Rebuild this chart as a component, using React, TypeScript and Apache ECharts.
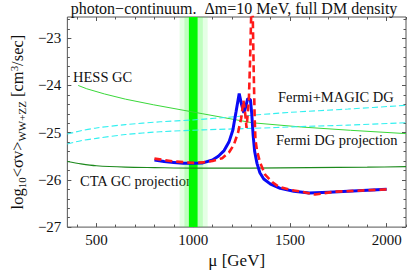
import React, { useEffect, useRef } from "react";
import * as echarts from "echarts";

const xMajor = [500, 1000, 1500, 2000];
const xMinor = [400, 600, 700, 800, 900, 1100, 1200, 1300, 1400, 1600, 1700, 1800, 1900, 2100];
const yMajor = [-27, -26, -25, -24, -23];
const yMinor = [-26.8, -26.6, -26.4, -26.2, -25.8, -25.6, -25.4, -25.2, -24.8, -24.6, -24.4, -24.2, -23.8, -23.6, -23.4, -23.2, -22.8, -22.6];

const hessX = [406, 450, 542, 650, 796, 1050, 1305, 1559, 1813, 2100];
const hessY = [-24.0, -24.07, -24.18, -24.29, -24.41, -24.6, -24.79, -24.88, -24.95, -25.02];

const fmX = [350, 420, 500, 650, 830, 1000, 1220, 1500, 1800, 2100];
const fmY = [-25.03, -24.96, -24.9, -24.83, -24.77, -24.73, -24.66, -24.57, -24.5, -24.42];

const fdX = [350, 420, 500, 650, 830, 1050, 1300, 1560, 1800, 2100];
const fdY = [-25.24, -25.17, -25.12, -25.04, -24.98, -24.94, -24.91, -24.87, -24.84, -24.79];

const ctaX = [350, 420, 500, 650, 800, 1000, 1300, 1600, 1900, 2100];
const ctaY = [-25.61, -25.66, -25.7, -25.73, -25.74, -25.75, -25.75, -25.74, -25.73, -25.72];

const blueX = [800, 850, 900, 950, 1000, 1050, 1100, 1130, 1160, 1185, 1205, 1222, 1238, 1250, 1262, 1272, 1282, 1296, 1303, 1310, 1318, 1330, 1345, 1365, 1400, 1450, 1520, 1600, 1700, 1850, 2000];
const blueY = [-25.58, -25.61, -25.63, -25.65, -25.65, -25.64, -25.58, -25.5, -25.38, -25.2, -24.95, -24.55, -24.17, -24.4, -24.58, -24.45, -24.28, -24.3, -24.6, -25.05, -25.4, -25.65, -25.85, -25.98, -26.09, -26.18, -26.24, -26.28, -26.26, -26.23, -26.2];

const redX = [800, 900, 1000, 1050, 1100, 1150, 1185, 1210, 1232, 1248, 1260, 1268, 1276, 1288, 1294, 1300, 1304, 1308, 1313, 1318, 1322, 1330, 1345, 1372, 1410, 1440, 1500, 1560, 1630, 1730, 1850, 2000];
const redY = [-25.55, -25.61, -25.64, -25.63, -25.6, -25.54, -25.42, -25.26, -25.0, -24.7, -24.32, -24.55, -24.9, -24.3, -23.5, -22.5, -21.5, -22.5, -23.7, -24.7, -25.15, -25.38, -25.62, -25.89, -26.05, -26.14, -26.21, -26.25, -26.31, -26.25, -26.23, -26.2];

const bandOuter = [930, 1075];
const bandMid = [955, 1050];
const bandCore = [978, 1023];

const zip = (xs: number[], ys: number[]) => xs.map((x, i) => [x, ys[i]]);
const FONT = "Liberation Serif";
const fmtNum = (v: number) => (v < 0 ? "\u2212" : "") + Math.abs(v);

export default function App() {
  const ref = useRef<HTMLDivElement>(null);
  useEffect(() => {
    document.body.style.margin = "0";
    const chart = echarts.init(ref.current!, null, { renderer: "svg" });
    const xBase = { type: "value", min: 350, max: 2100, axisLine: { show: false }, splitLine: { show: false } };
    const yBase = { type: "value", min: -27, max: -22.55, axisLine: { show: false }, splitLine: { show: false } };
    const tickStyle = { color: "#555", width: 1 };
    const mkX = (pos: string, vals: number[], len: number, labels: boolean, extra: any = {}) => ({
      ...xBase,
      position: pos,
      axisTick: { show: true, inside: true, length: len, customValues: vals, lineStyle: tickStyle },
      axisLabel: labels
        ? { show: true, customValues: vals, formatter: fmtNum, fontFamily: FONT, fontSize: 15, color: "#111", margin: 5 }
        : { show: false },
      ...extra,
    });
    const mkY = (pos: string, vals: number[], len: number, labels: boolean, extra: any = {}) => ({
      ...yBase,
      position: pos,
      axisTick: { show: true, inside: true, length: len, customValues: vals, lineStyle: tickStyle },
      axisLabel: labels
        ? { show: true, customValues: vals, formatter: fmtNum, fontFamily: FONT, fontSize: 15, color: "#111", margin: 6 }
        : { show: false },
      ...extra,
    });
    const option: any = {
      animation: false,
      grid: { left: 62, right: 1, top: 17, bottom: 45, show: true, borderColor: "#555", borderWidth: 1, backgroundColor: "transparent" },
      title: {
        text: "photon\u2212continuum.  \u0394m=10 MeV, full DM density",
        left: 234,
        top: 0,
        padding: 0,
        textAlign: "center",
        textStyle: { fontFamily: FONT, fontSize: 16, lineHeight: 16, fontWeight: "normal", color: "#111" },
      },
      xAxis: [
        mkX("bottom", xMajor, 4, true, {
          name: "\u03bc [GeV]",
          nameLocation: "middle",
          nameGap: 23,
          nameTextStyle: { fontFamily: FONT, fontSize: 17, color: "#111" },
        }),
        mkX("bottom", xMinor, 2.5, false),
        mkX("top", xMajor, 4, false),
        mkX("top", xMinor, 2.5, false),
      ],
      yAxis: [
        mkY("left", yMajor, 4, true, {
          name: "{m|log}{s|10}{m|<σv>}{s|WW+ZZ}{m| [cm}{p|3}{m|/sec]}",
          nameLocation: "middle",
          nameRotate: 90,
          nameGap: 40,
          nameTextStyle: {
            fontFamily: FONT,
            color: "#111",
            rich: {
              m: { fontFamily: FONT, fontSize: 16.5, color: "#111", lineHeight: 19, verticalAlign: "middle" },
              s: { fontFamily: FONT, fontSize: 11, color: "#111", lineHeight: 19, verticalAlign: "bottom", padding: [6, 0, 0, 0] },
              p: { fontFamily: FONT, fontSize: 11, color: "#111", lineHeight: 19, verticalAlign: "top", padding: [0, 0, 6, 0] },
            },
          },
        }),
        mkY("left", yMinor, 2.5, false),
        mkY("right", yMajor, 4, false),
        mkY("right", yMinor, 2.5, false),
      ],
      graphic: [
        { type: "text", left: 73, top: 69, style: { text: "HESS GC", fontFamily: FONT, fontSize: 14.5, fill: "#111" } },
        { type: "text", left: 278, top: 89, style: { text: "Fermi+MAGIC DG", fontFamily: FONT, fontSize: 14.5, fill: "#111" } },
        { type: "text", left: 276, top: 132, style: { text: "Fermi DG projection", fontFamily: FONT, fontSize: 14.5, fill: "#111" } },
        { type: "text", left: 80, top: 173, style: { text: "CTA GC projection", fontFamily: FONT, fontSize: 14.5, fill: "#111" } },
      ],
      series: [
        { type: "line", name: "HESS GC", data: zip(hessX, hessY), showSymbol: false, z: 2, lineStyle: { color: "#3ad83a", width: 1 } },
        { type: "line", name: "Fermi+MAGIC DG", data: zip(fmX, fmY), showSymbol: false, smooth: 0.3, z: 2, lineStyle: { color: "#33f0f0", width: 1.1, type: [6, 3] } },
        { type: "line", name: "Fermi DG projection", data: zip(fdX, fdY), showSymbol: false, smooth: 0.3, z: 2, lineStyle: { color: "#33f0f0", width: 1.1, type: [6, 3] } },
        { type: "line", name: "CTA GC projection", data: zip(ctaX, ctaY), showSymbol: false, smooth: 0.3, z: 2, lineStyle: { color: "#1c891c", width: 1.1 } },
        {
          type: "line",
          name: "band",
          data: [],
          z: 3,
          markArea: {
            silent: true,
            data: [
              [{ xAxis: bandOuter[0], itemStyle: { color: "rgba(40,255,40,0.12)" } }, { xAxis: bandOuter[1] }],
              [{ xAxis: bandMid[0], itemStyle: { color: "rgba(40,255,40,0.2)" } }, { xAxis: bandMid[1] }],
              [{ xAxis: bandCore[0], itemStyle: { color: "rgb(0,248,0)" } }, { xAxis: bandCore[1] }],
            ],
          },
        },
        { type: "line", name: "blue", data: zip(blueX, blueY), showSymbol: false, z: 5, lineStyle: { color: "#0a0af5", width: 3 } },
        { type: "line", name: "red", data: zip(redX, redY), showSymbol: false, z: 6, lineStyle: { color: "#ff1a1a", width: 2.6, type: [7, 4] } },
      ],
    };
    chart.setOption(option);
    return () => chart.dispose();
  }, []);
  return <div ref={ref} style={{ width: 407, height: 274 }} />;
}
